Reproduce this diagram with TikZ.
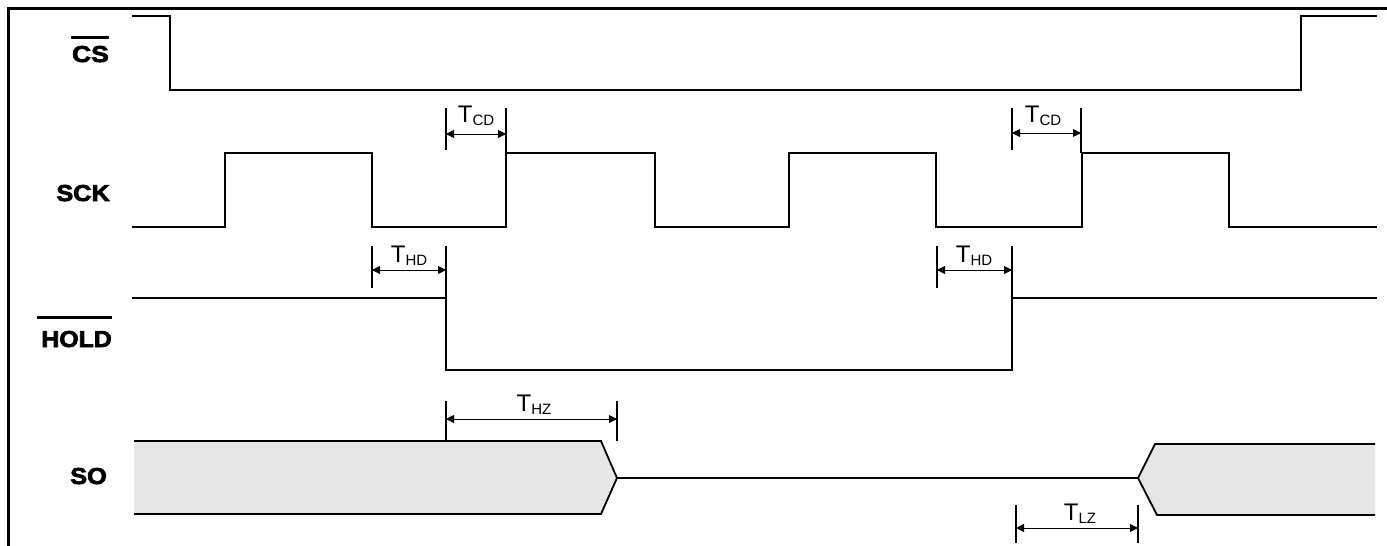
\documentclass[tikz,border=0pt]{standalone}
\usepackage{fontspec}
\setmainfont{Liberation Sans}
\newfontfamily\heavyfont{Liberation Sans}[UprightFont={* Bold}, FakeBold=3]
\usetikzlibrary{arrows.meta}
\begin{document}
\begin{tikzpicture}[x=1pt,y=-1pt,
  sig/.style={line width=1.8pt, line join=miter},
  framestyle/.style={line width=2.6pt},
  tickline/.style={line width=1.5pt},
  dimarrow/.style={line width=0.9pt, {Triangle[length=8pt,width=8pt]}-{Triangle[length=8pt,width=8pt]}},
  overbar/.style={line width=3pt},
  siglabel/.style={font=\fontsize{23}{23}\heavyfont, anchor=base east, inner sep=0pt},
  tlabel/.style={font=\fontsize{24}{24}\selectfont, anchor=base, inner sep=0pt},
  sofill/.style={fill={rgb,255:red,230;green,230;blue,230}},
]
\useasboundingbox (0,0) rectangle (1387,546);

% frame
\draw[framestyle] (7,8.7) -- (1387,8.7);
\draw[line width=2.4pt] (8.5,8) -- (8.5,546);

% signal labels
\node[siglabel] (cs) at (109,62) {\scalebox{1.15}[1]{CS}};
\node[siglabel] (sck) at (110,201) {\scalebox{1.1}[1]{SCK}};
\node[siglabel] (hold) at (112,347) {\scalebox{1.08}[1]{HOLD}};
\node[siglabel] (so) at (107,484) {\scalebox{1.1}[1]{SO}};
\draw[overbar] (71,37.5) -- (109,37.5);
\draw[overbar] (37,317) -- (112,317);

% CS
\draw[sig] (132,16) -- (170,16) -- (170,90) -- (1301,90) -- (1301,16) -- (1377,16);

% SCK
\draw[sig] (132,227) -- (225,227) |- (372,153) |- (506,227) |- (655,153) |- (789,227)
  |- (936,153) |- (1082,227) |- (1229,153) |- (1377,227);

% HOLD
\draw[sig] (132,298) -- (446,298) |- (1012,370) |- (1377,298);

% SO
\fill[sofill] (134,441) -- (601,441) -- (617,478) -- (601,514) -- (134,514) -- cycle;
\draw[sig] (134,441) -- (601,441) -- (617,478) -- (601,514) -- (134,514);
\draw[sig] (617,478) -- (1138,478);
\fill[sofill] (1375,444) -- (1155,444) -- (1138,478) -- (1157,515) -- (1375,515) -- cycle;
\draw[sig] (1375,444) -- (1155,444) -- (1138,478) -- (1157,515) -- (1375,515);

% T_CD 1
\coordinate (cd1a) at (446,134); \coordinate (cd1b) at (506,134);
\draw[tickline] (446,108) -- (446,150);
\draw[tickline] (506,108) -- (506,153);
\draw[dimarrow] (cd1a) -- (cd1b);
\node[tlabel] (lcd1) at (476,122) {T\raisebox{-3pt}{\fontsize{15}{15}\selectfont CD}};

% T_HD 1
\coordinate (hd1a) at (372,270); \coordinate (hd1b) at (446,270);
\draw[tickline] (372,246) -- (372,288);
\draw[tickline] (446,246) -- (446,298);
\draw[dimarrow] (hd1a) -- (hd1b);
\node[tlabel] (lhd1) at (409,262) {T\raisebox{-3pt}{\fontsize{15}{15}\selectfont HD}};

% T_CD 2
\coordinate (cd2a) at (1012,133); \coordinate (cd2b) at (1081,133);
\draw[tickline] (1012,108) -- (1012,150);
\draw[tickline] (1081,108) -- (1081,153);
\draw[dimarrow] (cd2a) -- (cd2b);
\node[tlabel] (lcd2) at (1043,122) {T\raisebox{-3pt}{\fontsize{15}{15}\selectfont CD}};

% T_HD 2
\coordinate (hd2a) at (937,270); \coordinate (hd2b) at (1012,270);
\draw[tickline] (937,246) -- (937,288);
\draw[tickline] (1012,246) -- (1012,298);
\draw[dimarrow] (hd2a) -- (hd2b);
\node[tlabel] (lhd2) at (974,262) {T\raisebox{-3pt}{\fontsize{15}{15}\selectfont HD}};

% T_HZ
\coordinate (hza) at (446,419); \coordinate (hzb) at (617,419);
\draw[tickline] (446,401) -- (446,441);
\draw[tickline] (617,401) -- (617,441);
\draw[dimarrow] (hza) -- (hzb);
\node[tlabel] (lhz) at (534,411) {T\raisebox{-3pt}{\fontsize{15}{15}\selectfont HZ}};

% T_LZ
\coordinate (lza) at (1016,528); \coordinate (lzb) at (1138,528);
\draw[tickline] (1016,505) -- (1016,543);
\draw[tickline] (1138,505) -- (1138,543);
\draw[dimarrow] (lza) -- (lzb);
\node[tlabel] (llz) at (1080,520) {T\raisebox{-3pt}{\fontsize{15}{15}\selectfont LZ}};
\end{tikzpicture}
\end{document}
